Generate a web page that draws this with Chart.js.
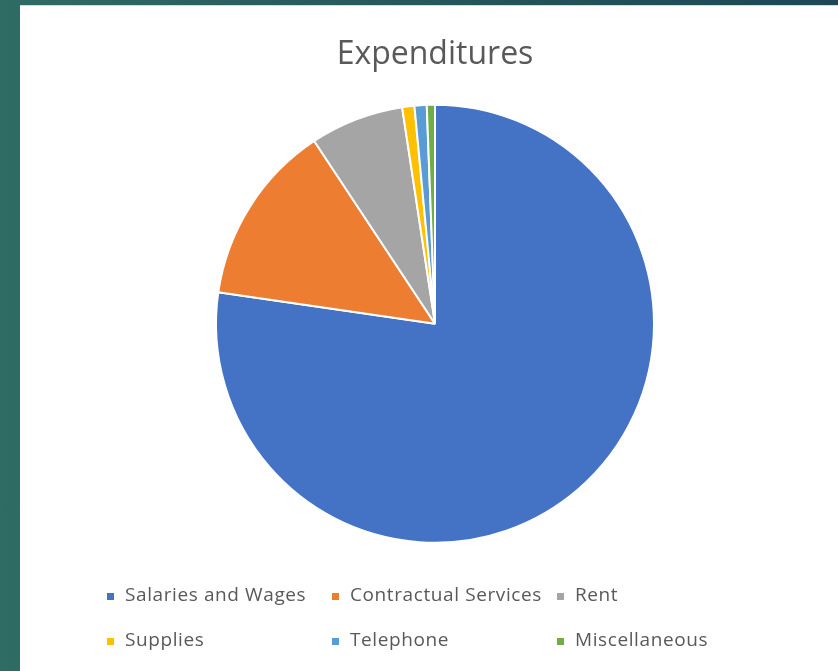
<!DOCTYPE html>
<html>
<head>
<meta charset="utf-8">
<script src="https://cdn.jsdelivr.net/npm/chart.js@4.4.1/dist/chart.umd.min.js"></script>
<style>
  html, body { margin: 0; padding: 0; }
  body {
    width: 838px; height: 671px; overflow: hidden;
    background: linear-gradient(to right, #2f6c64 0%, #25575b 50%, #1c4753 100%);
  }
  .card {
    position: absolute; left: 20px; top: 5px;
    width: 818px; height: 666px;
    background: #ffffff;
    border-top: 1px solid #d9d9d9;
    box-sizing: border-box;
  }
</style>
</head>
<body>
<div class="card"><canvas id="expChart" width="818" height="665"></canvas></div>
<script>
// Expenditures (share of total)
const categories = ['Salaries and Wages', 'Contractual Services', 'Rent', 'Supplies', 'Telephone', 'Miscellaneous'];
const shares = [77.3, 13.4, 6.9, 0.9, 0.9, 0.6];
const sliceColors = ['#4472c4', '#ed7d31', '#a5a5a5', '#ffc000', '#5b9bd5', '#70ad47'];

// Excel-style legend: fixed grid of three columns
const gridLegend = {
    id: 'gridLegend',
    afterDraw(chart) {
        const ctx = chart.ctx;
        const labels = chart.data.labels;
        const colors = chart.data.datasets[0].backgroundColor;
        ctx.save();
        ctx.font = '19px "Open Sans"';
        ctx.letterSpacing = '0.6px';
        ctx.textBaseline = 'middle';
        labels.forEach((label, i) => {
            const col = i % 3;
            const row = Math.floor(i / 3);
            const x = 87 + col * 225;
            const y = 590 + row * 45;
            ctx.fillStyle = colors[i];
            ctx.fillRect(x, y - 3, 7, 7);
            ctx.fillStyle = '#595959';
            ctx.fillText(label, x + 18, y);
        });
        ctx.restore();
    }
};

const ctx = document.getElementById('expChart').getContext('2d');
new Chart(ctx, {
    type: 'pie',
    data: {
        labels: categories,
        datasets: [{
            data: shares,
            backgroundColor: sliceColors,
            borderColor: '#ffffff',
            borderWidth: 2
        }]
    },
    options: {
        responsive: false,
        animation: false,
        layout: { padding: { left: 195, right: 183, top: 0, bottom: 127 } },
        plugins: {
            legend: { display: false },
            tooltip: { enabled: false },
            title: {
                display: true,
                text: 'Expenditures',
                color: '#595959',
                font: { family: '"Open Sans"', size: 32, weight: 'normal' },
                padding: { top: 30, bottom: 29 }
            }
        }
    },
    plugins: [gridLegend]
});
</script>
</body>
</html>
